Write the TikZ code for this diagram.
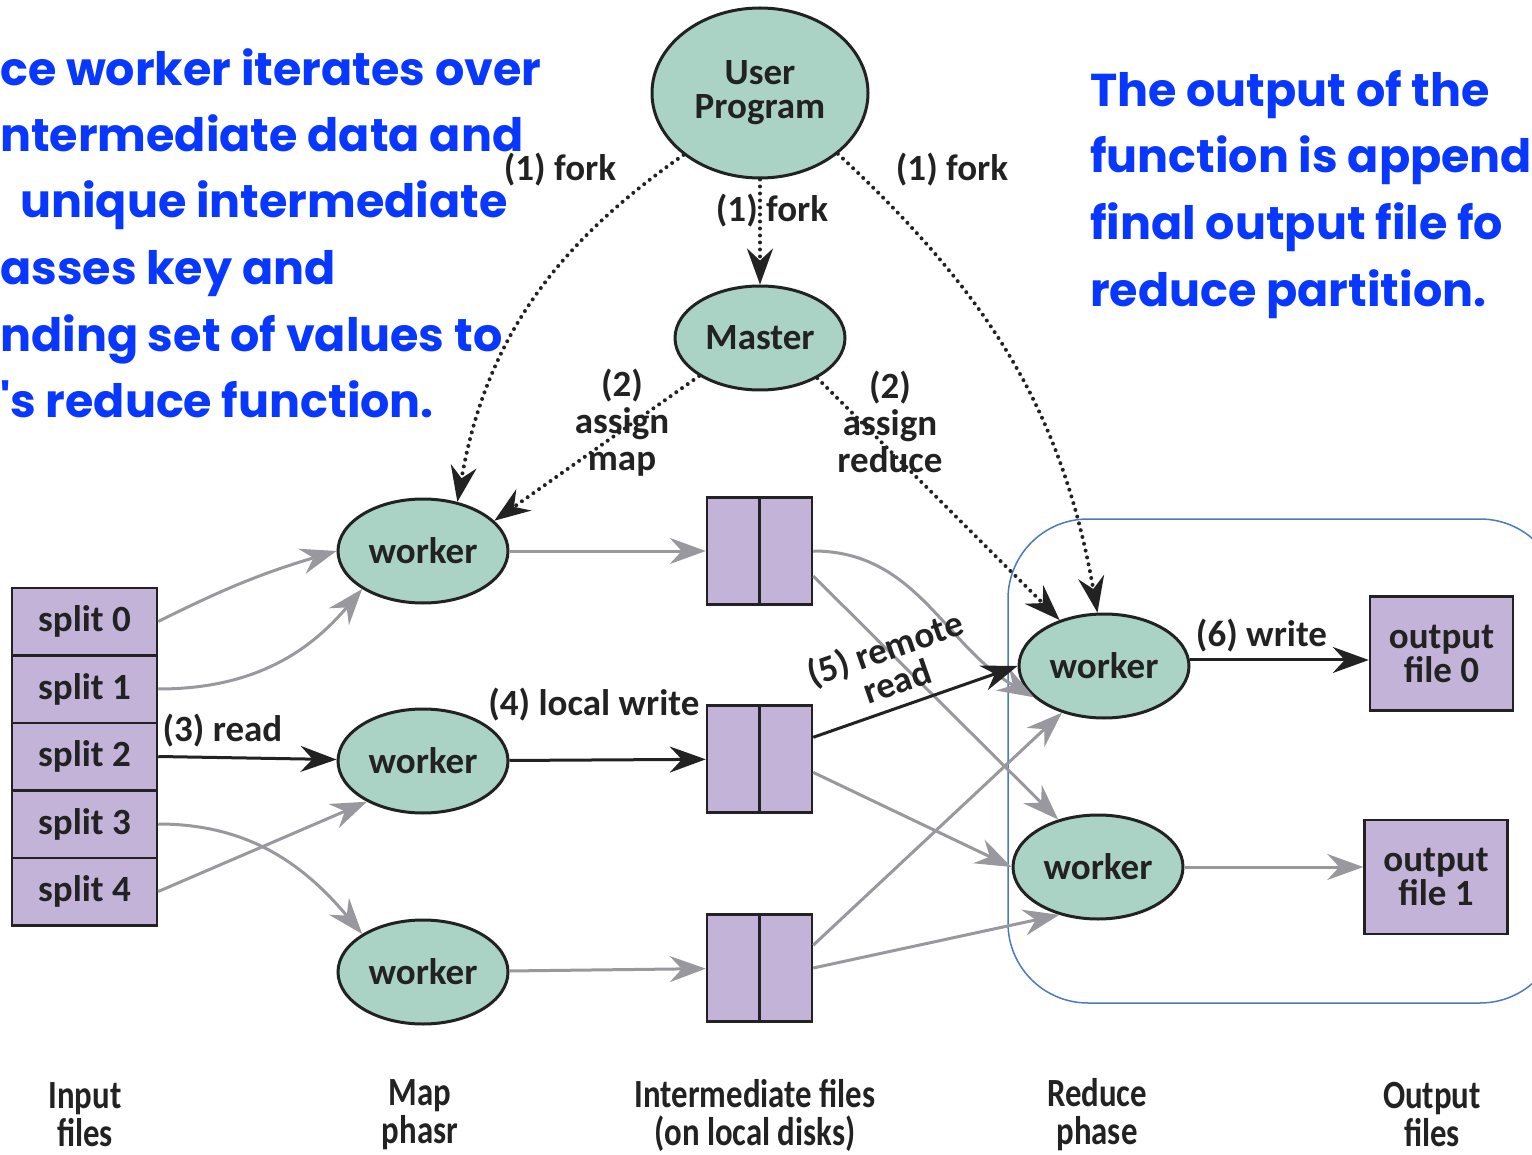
\documentclass[tikz,border=0pt]{standalone}
\usepackage{fontspec}
\setmainfont{Carlito}
\newfontfamily\notefont{Poppins}
\newfontfamily\condfont{Carlito}[FakeStretch=0.82]
\usetikzlibrary{positioning,shapes.geometric,arrows.meta}

\definecolor{workerfill}{RGB}{170,211,198}
\definecolor{filefill}{RGB}{195,179,217}
\definecolor{arrowgray}{RGB}{152,152,158}
\definecolor{inkdark}{RGB}{34,34,34}
\definecolor{noteblue}{RGB}{8,56,255}
\definecolor{frameblue}{RGB}{74,122,192}

\begin{document}
\begin{tikzpicture}[x=1pt,y=1pt,on grid,
	>={Stealth[length=36pt,width=26pt,inset=12pt]},
	every node/.style={font=\bfseries\fontsize{37}{37}\selectfont,text=inkdark},
	proc/.style={ellipse,draw=inkdark,line width=3pt,fill=workerfill,minimum width=170pt,minimum height=104pt,inner sep=0pt,align=center},
	splitbox/.style={rectangle,draw=inkdark,line width=2.5pt,fill=filefill,minimum width=145pt,minimum height=67.5pt,inner sep=0pt},
	interbox/.style={rectangle,draw=inkdark,line width=2.5pt,fill=filefill,minimum width=105pt,minimum height=107pt,inner sep=0pt},
	outbox/.style={rectangle,draw=inkdark,line width=2.5pt,fill=filefill,minimum width=143pt,minimum height=114pt,inner sep=0pt,align=center},
	flow/.style={->,draw=arrowgray,line width=3pt},
	mainflow/.style={->,draw=inkdark,line width=3pt},
	ctrl/.style={->,draw=inkdark,line width=4pt,dash pattern=on 0pt off 7pt,line cap=round},
	note/.style={font=\notefont\bfseries\fontsize{46}{66}\selectfont,text=noteblue,anchor=base west,inner sep=0pt},
	caption/.style={font=\condfont\bfseries\fontsize{40}{38}\selectfont,align=center,inner sep=0pt}]
	\useasboundingbox (0,0) rectangle (1532,-1155);
	\clip (0,0) rectangle (1532,-1155);

	% blue notes
	\node[note] (l1) at (0,-86) {ce worker iterates over};
	\node[note] (l2) at (0,-152) {ntermediate data and};
	\node[note] (l3) at (20,-218) {unique intermediate};
	\node[note] (l4) at (0,-285) {asses key and};
	\node[note] (l5) at (0,-352) {nding set of values to};
	\node[note] (l6) at (0,-418) {'s reduce function.};
	\node[note] (r1) at (1090,-107) {The output of the};
	\node[note] (r2) at (1090,-173) {function is appende};
	\node[note] (r3) at (1090,-240) {final output file fo};
	\node[note] (r4) at (1090,-307) {reduce partition.};

	% reduce frame
	\draw[frameblue,line width=1.5pt,rounded corners=80pt] (1008,-519) rectangle (1560,-1003);

	% nodes
	\node[proc,minimum width=216pt,minimum height=170pt] (user) at (760,-93) {User\\[-3pt]Program};
	\node[proc] (master) [below=245pt of user] {Master};
	\node[proc] (map1) at (423,-551) {worker};
	\node[proc] (map2) [below=210pt of map1] {worker};
	\node[proc] (map3) [below=211pt of map2] {worker};
	\node[proc] (red1) at (1104,-666) {worker};
	\node[proc] (red2) at (1098,-867) {worker};

	\node[splitbox] (split0) at (84.5,-621.5) {split 0};
	\node[splitbox] (split1) [below=67.5pt of split0] {split 1};
	\node[splitbox] (split2) [below=67.5pt of split1] {split 2};
	\node[splitbox] (split3) [below=67.5pt of split2] {split 3};
	\node[splitbox] (split4) [below=67.5pt of split3] {split 4};

	\node[interbox] (im1) at (759.5,-551) {};
	\node[interbox] (im2) [below=208pt of im1] {};
	\node[interbox] (im3) [below=209pt of im2] {};
	\foreach \f in {im1,im2,im3}
		\draw[inkdark,line width=2.5pt] (\f.north) -- (\f.south);

	\node[outbox] (out0) at (1441.5,-653.5) {output\\[-3pt]file 0};
	\node[outbox] (out1) at (1436,-877) {output\\[-3pt]file 1};

	% control
	\path (user) edge[ctrl] node[pos=0.3,xshift=12pt] {(1) fork} (master);
	\draw[ctrl] (user.219) to[out=215,in=80] (map1.55);
	\draw[ctrl] (user.322) to[out=-43,in=100] (red1.97);
	\draw[ctrl] (master.212) -- (map1.23);
	\draw[ctrl] (master.325) -- (red1.134);
	\node (fork1) at (560,-170) {(1) fork};
	\node (fork2) at (952,-170) {(1) fork};
	\node[align=center] (asgmap) at (622,-423) {(2)\\assign\\map};
	\node[align=center] (asgred) at (890,-422) {(2)\\assign\\reduce};

	% input -> map
	\draw[flow] (split0.east) to[bend left=5] (map1.west);
	\draw[flow] (split1.east) to[out=0,in=230] (map1.212);
	\path (split2.east) edge[mainflow] node[above,pos=0.36,yshift=6pt] {(3) read} (map2);
	\draw[flow] (split3.east) to[out=0,in=130] (map3.148);
	\draw[flow] (split4.east) -- (map2.216);

	% map -> intermediate
	\draw[flow] (map1) -- (im1);
	\path (map2) edge[mainflow] node[above,pos=0.43,yshift=34pt] {(4) local write} (im2);
	\draw[flow] (map3) -- (im3);

	% intermediate -> reduce
	\draw[flow] (im1.east) to[out=0,in=150] (red1.204);
	\draw[flow] (im1.335) -- (red2.130);
	\path (im2.22) edge[mainflow] node[above,sloped,pos=0.45,align=center,yshift=10pt,inner sep=1pt] {(5) remote\\[-2pt]read} (red1.west);
	\draw[flow] (im2.346) -- (red2.west);
	\draw[flow] (im3.23) -- (red1.228);
	\draw[flow] (im3.east) -- (red2.231);

	% reduce -> output
	\path (red1.4) edge[mainflow] node[above,pos=0.4,yshift=3pt] {(6) write} (red1.4 -| out0.west);
	\draw[flow] (red2) -- (red2 -| out1.west);

	% captions
	\node[caption] (capin) at (85,-1115) {Input\\files};
	\node[caption] (capmap) at (420,-1115) {Map\\phasr};
	\node[caption] (capim) at (755,-1115) {Intermediate files\\(on local disks)};
	\node[caption] (capred) at (1097,-1115) {Reduce\\phase};
	\node[caption] (capout) at (1432,-1115) {Output\\files};
\end{tikzpicture}
\end{document}
